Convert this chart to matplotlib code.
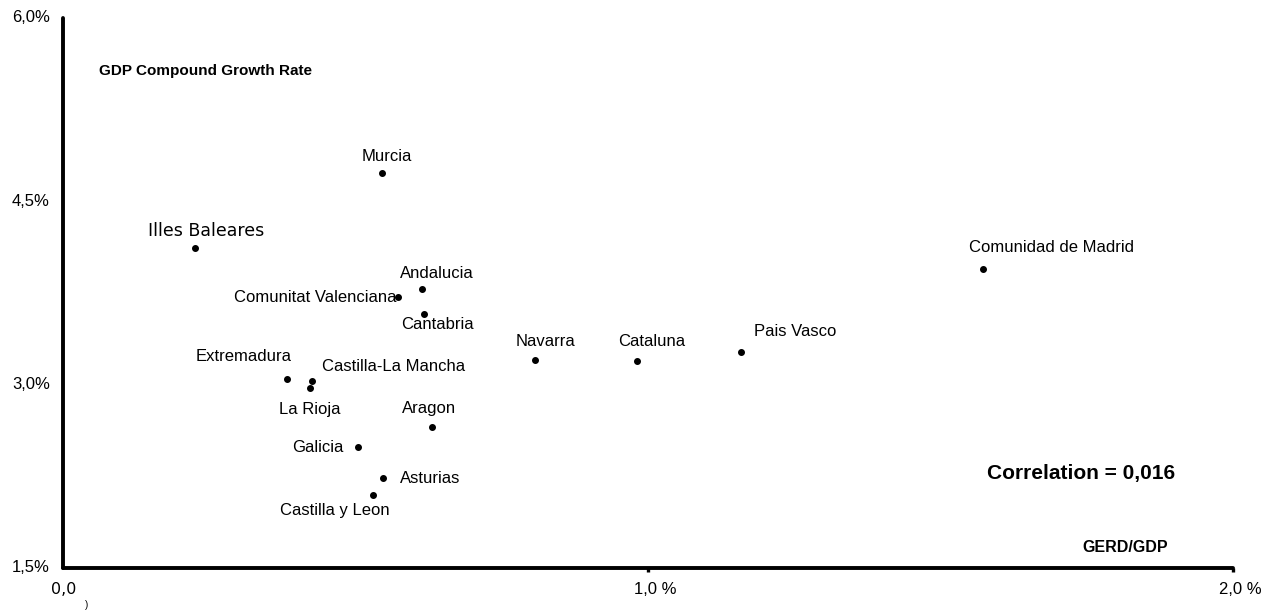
import matplotlib.pyplot as plt

# regional R&D intensity vs. GDP growth
regions = ["Illes Baleares", "Murcia", "Andalucia", "Comunitat Valenciana", "Cantabria",
           "Extremadura", "Castilla-La Mancha", "La Rioja", "Aragon", "Galicia",
           "Asturias", "Castilla y Leon", "Navarra", "Cataluna", "Pais Vasco",
           "Comunidad de Madrid"]
gerd_gdp = [0.226, 0.545, 0.614, 0.573, 0.617, 0.383, 0.426, 0.422, 0.631, 0.504,
            0.547, 0.530, 0.807, 0.981, 1.159, 1.573]
gdp_growth = [4.12, 4.73, 3.78, 3.72, 3.58, 3.05, 3.03, 2.97, 2.65, 2.49,
              2.24, 2.10, 3.20, 3.19, 3.27, 3.95]
correlation = "0,016"

y_ticks = [1.5, 3.0, 4.5, 6.0]
y_tick_labels = ["1,5%", "3,0%", "4,5%", "6,0%"]
x_ticks = [0.0, 1.0, 2.0]
x_tick_labels = ["0,0", "1,0 %", "2,0 %"]

# label placement (pixel offsets from the dot, alignment)
label_pos = {
    "Illes Baleares": (11, 17, "center"),
    "Murcia": (5, 17, "center"),
    "Andalucia": (15, 16, "center"),
    "Comunitat Valenciana": (-2, -1, "right"),
    "Cantabria": (13, -11, "center"),
    "Extremadura": (-43, 22, "center"),
    "Castilla-La Mancha": (81, 15, "center"),
    "La Rioja": (0, -21, "center"),
    "Aragon": (-3, 19, "center"),
    "Galicia": (-40, 0, "center"),
    "Asturias": (47, -1, "center"),
    "Castilla y Leon": (-38, -16, "center"),
    "Navarra": (10, 19, "center"),
    "Cataluna": (15, 20, "center"),
    "Pais Vasco": (54, 20, "center"),
    "Comunidad de Madrid": (68, 21, "center"),
}

plt.rcParams['font.family'] = ['Liberation Sans', 'DejaVu Sans']

fig = plt.figure(figsize=(12.65, 6.10), dpi=100)
ax = fig.add_axes([63 / 1265, 42 / 610, (1233 - 63) / 1265, (568 - 18) / 610])
ax.set_xlim(0, 2.0)
ax.set_ylim(1.5, 6.0)

ax.scatter(gerd_gdp, gdp_growth, s=16, color='black', zorder=3, clip_on=False)

for name, x, y in zip(regions, gerd_gdp, gdp_growth):
    dx, dy, ha = label_pos[name]
    if name == "Illes Baleares":
        ax.annotate(name, (x, y), xytext=(dx, dy), textcoords='offset pixels',
                    ha=ha, va='center', fontsize=12.5, family='DejaVu Sans')
    else:
        ax.annotate(name, (x, y), xytext=(dx, dy), textcoords='offset pixels',
                    ha=ha, va='center', fontsize=12)

for side in ['top', 'right']:
    ax.spines[side].set_visible(False)
for side in ['left', 'bottom']:
    ax.spines[side].set_linewidth(2.8)
    ax.spines[side].set_capstyle('round')

ax.set_yticks([])
ax.set_xticks(x_ticks[1:])
ax.set_xticklabels([])
ax.tick_params(axis='x', length=3, width=2.4, direction='out')

# tick labels
for v, lab in zip(y_ticks, y_tick_labels):
    ax.annotate(lab, (0, v), xytext=(-13, 0), textcoords='offset pixels',
                ha='right', va='center', fontsize=12, annotation_clip=False)
for v, lab in zip(x_ticks, x_tick_labels):
    if v == 0.0:
        ax.annotate(lab, (v, 1.5), xytext=(1, -22), textcoords='offset pixels',
                    ha='center', va='center', fontsize=11.5, family='DejaVu Sans',
                    annotation_clip=False)
    else:
        ax.annotate(lab, (v, 1.5), xytext=(7, -22), textcoords='offset pixels',
                    ha='center', va='center', fontsize=12, annotation_clip=False)
ax.annotate(")", (0, 1.5), xytext=(24, -37), textcoords='offset pixels',
            ha='center', va='center', fontsize=7, annotation_clip=False)

ax.text(36 / 1170, 0.9036, "GDP Compound Growth Rate", transform=ax.transAxes,
        fontsize=11, fontweight='bold', ha='left', va='center')
ax.text(1168 / 1170 - 63 / 1170, 0.038, "GERD/GDP", transform=ax.transAxes,
        fontsize=11.5, fontweight='bold', ha='right', va='center')
ax.text(924 / 1170, 0.171, "Correlation = " + correlation, transform=ax.transAxes,
        fontsize=15, fontweight='bold', ha='left', va='center')

fig.savefig("out.png", dpi=100)
